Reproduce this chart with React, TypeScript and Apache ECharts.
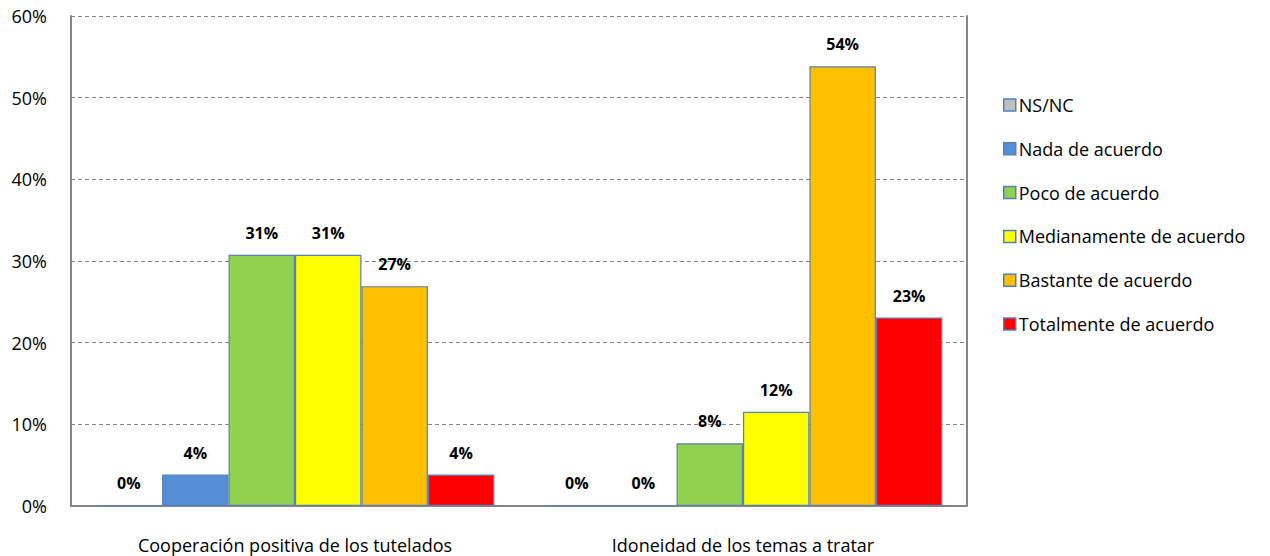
import React, { useEffect, useRef } from "react";
import * as echarts from "echarts";

const categories = ["Cooperación positiva de los tutelados", "Idoneidad de los temas a tratar"];
const seriesNames = [
  "NS/NC",
  "Nada de acuerdo",
  "Poco de acuerdo",
  "Medianamente de acuerdo",
  "Bastante de acuerdo",
  "Totalmente de acuerdo",
];
const nsnc = [0, 0];
const nada = [3.85, 0];
const poco = [30.77, 7.69];
const mediana = [30.77, 11.54];
const bastante = [26.92, 53.85];
const totalmente = [3.85, 23.08];
const yTicks = [0, 10, 20, 30, 40, 50, 60];

const colors = ["#BFBFBF", "#558ED5", "#92D050", "#FFFF00", "#FFC000", "#FF0000"];
const FONT = "Open Sans";

export default function App() {
  const ref = useRef<HTMLDivElement>(null);
  useEffect(() => {
    document.body.style.margin = "0";
    const chart = echarts.init(ref.current!, null, { renderer: "svg" });
    const values = [nsnc, nada, poco, mediana, bastante, totalmente];
    chart.setOption({
      animation: false,
      backgroundColor: "#ffffff",
      grid: { left: 71, right: 303, top: 16, bottom: 50, containLabel: false },
      legend: {
        orient: "vertical",
        left: 998,
        top: 90,
        itemWidth: 12,
        itemHeight: 12,
        itemGap: 23.8,
        icon: "rect",
        textStyle: { fontFamily: FONT, fontSize: 18, color: "#000", lineHeight: 20, padding: [0, 0, 0, -2] },
        data: seriesNames.map((n, i) => ({
          name: n,
          itemStyle: { color: colors[i], borderColor: "#4F81BD", borderWidth: 1.5 },
        })),
      },
      xAxis: {
        type: "category",
        data: categories,
        axisLine: { show: true, lineStyle: { color: "#868686", width: 2 } },
        axisTick: { show: false },
        axisLabel: {
          fontFamily: FONT,
          fontSize: 18,
          color: "#000",
          margin: 30,
        },
      },
      yAxis: [
        {
          type: "value",
          min: 0,
          max: 60,
          interval: 10,
          axisLine: { show: true, lineStyle: { color: "#868686", width: 2 } },
          axisTick: { show: false },
          axisLabel: {
            fontFamily: FONT,
            fontSize: 18,
            color: "#000",
            margin: 24,
            formatter: (v: number) => (yTicks.includes(v) ? v + "%" : ""),
          },
          splitLine: { show: true, lineStyle: { color: "#868686", type: [4, 3], width: 1 } },
        },
        {
          type: "value",
          min: 0,
          max: 60,
          interval: 10,
          position: "right",
          axisLine: { show: true, lineStyle: { color: "#868686", width: 2 } },
          axisTick: { show: false },
          axisLabel: { show: false },
          splitLine: { show: false },
        },
      ],
      series: seriesNames.map((name, i) => ({
        name,
        type: "bar",
        data: values[i],
        barGap: "0%",
        barCategoryGap: "11%",
        itemStyle: { color: colors[i], borderColor: "#5B7FB8", borderWidth: 1.2 },
        label: {
          show: true,
          position: "top",
          distance: 14,
          fontFamily: FONT,
          fontSize: 16,
          fontWeight: "bold",
          color: "#000",
          formatter: (p: any) => Math.round(p.value) + "%",
        },
      })),
    });
    return () => chart.dispose();
  }, []);
  return <div ref={ref} style={{ width: 1270, height: 556 }} />;
}
